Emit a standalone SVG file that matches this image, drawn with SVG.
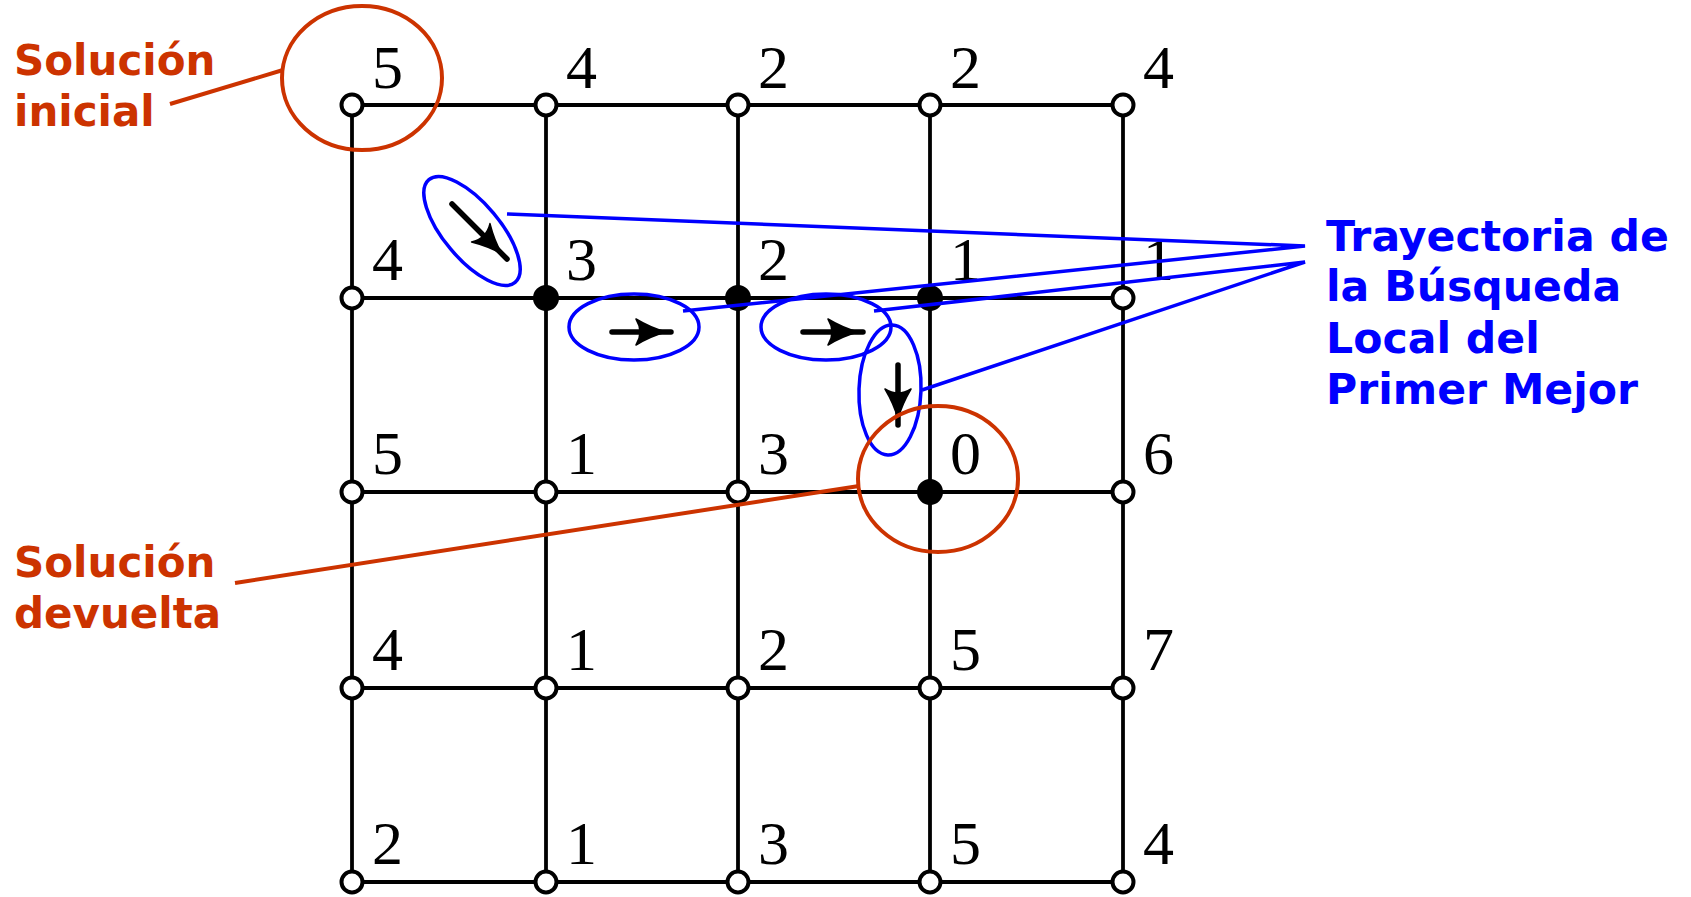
<svg xmlns="http://www.w3.org/2000/svg" xmlns:xlink="http://www.w3.org/1999/xlink" width="1691" height="897" viewBox="0 0 1691 897">
<style>
.grid line{stroke:#000;stroke-width:3.8;stroke-linecap:butt}
.open{fill:#fff;stroke:#000;stroke-width:4}
.filled{fill:#000;stroke:#000;stroke-width:2}
.num{font-family:"Liberation Serif","DejaVu Serif",serif;font-size:62px;fill:#000}
.red{fill:none;stroke:#CC3300;stroke-width:4}
.blue{fill:none;stroke:#0000FF;stroke-width:3.5}
.redtxt{font-family:"DejaVu Sans",Verdana,sans-serif;font-weight:bold;font-size:42px;fill:#CC3300}
.bluetxt{font-family:"DejaVu Sans",Verdana,sans-serif;font-weight:bold;font-size:42.6px;fill:#0000FF}
.shaft{stroke:#000;stroke-width:5.5;stroke-linecap:round}
</style>
<defs>
<path id="head" d="M0,0 Q-15,-4 -30,-13 Q-22,0 -30,13 Q-15,4 0,0 Z" fill="#000" stroke="#000" stroke-width="1.5" stroke-linejoin="round"/>
</defs>
<rect width="1691" height="897" fill="#fff"/>
<g id="connectors" class="grid">
<line x1="352" y1="105" x2="1123" y2="105"/>
<line x1="352" y1="298" x2="1123" y2="298"/>
<line x1="352" y1="492" x2="1123" y2="492"/>
<line x1="352" y1="688" x2="1123" y2="688"/>
<line x1="352" y1="882" x2="1123" y2="882"/>
<line x1="352" y1="105" x2="352" y2="882"/>
<line x1="546" y1="105" x2="546" y2="882"/>
<line x1="738" y1="105" x2="738" y2="882"/>
<line x1="930" y1="105" x2="930" y2="882"/>
<line x1="1123" y1="105" x2="1123" y2="882"/>
</g>
<g id="n00"><circle class="open" cx="352" cy="105" r="10.5"/><text class="num" x="372" y="88">5</text></g>
<g id="n01"><circle class="open" cx="546" cy="105" r="10.5"/><text class="num" x="566" y="88">4</text></g>
<g id="n02"><circle class="open" cx="738" cy="105" r="10.5"/><text class="num" x="758" y="88">2</text></g>
<g id="n03"><circle class="open" cx="930" cy="105" r="10.5"/><text class="num" x="950" y="88">2</text></g>
<g id="n04"><circle class="open" cx="1123" cy="105" r="10.5"/><text class="num" x="1143" y="88">4</text></g>
<g id="n10"><circle class="open" cx="352" cy="298" r="10.5"/><text class="num" x="372" y="280">4</text></g>
<g id="n11"><circle class="filled" cx="546" cy="298" r="12"/><text class="num" x="566" y="280">3</text></g>
<g id="n12"><circle class="filled" cx="738" cy="298" r="12"/><text class="num" x="758" y="280">2</text></g>
<g id="n13"><circle class="filled" cx="930" cy="298" r="12"/><text class="num" x="950" y="280">1</text></g>
<g id="n14"><circle class="open" cx="1123" cy="298" r="10.5"/><text class="num" x="1143" y="280">1</text></g>
<g id="n20"><circle class="open" cx="352" cy="492" r="10.5"/><text class="num" x="372" y="474">5</text></g>
<g id="n21"><circle class="open" cx="546" cy="492" r="10.5"/><text class="num" x="566" y="474">1</text></g>
<g id="n22"><circle class="open" cx="738" cy="492" r="10.5"/><text class="num" x="758" y="474">3</text></g>
<g id="n23"><circle class="filled" cx="930" cy="492" r="12"/><text class="num" x="950" y="474">0</text></g>
<g id="n24"><circle class="open" cx="1123" cy="492" r="10.5"/><text class="num" x="1143" y="474">6</text></g>
<g id="n30"><circle class="open" cx="352" cy="688" r="10.5"/><text class="num" x="372" y="670">4</text></g>
<g id="n31"><circle class="open" cx="546" cy="688" r="10.5"/><text class="num" x="566" y="670">1</text></g>
<g id="n32"><circle class="open" cx="738" cy="688" r="10.5"/><text class="num" x="758" y="670">2</text></g>
<g id="n33"><circle class="open" cx="930" cy="688" r="10.5"/><text class="num" x="950" y="670">5</text></g>
<g id="n34"><circle class="open" cx="1123" cy="688" r="10.5"/><text class="num" x="1143" y="670">7</text></g>
<g id="n40"><circle class="open" cx="352" cy="882" r="10.5"/><text class="num" x="372" y="864">2</text></g>
<g id="n41"><circle class="open" cx="546" cy="882" r="10.5"/><text class="num" x="566" y="864">1</text></g>
<g id="n42"><circle class="open" cx="738" cy="882" r="10.5"/><text class="num" x="758" y="864">3</text></g>
<g id="n43"><circle class="open" cx="930" cy="882" r="10.5"/><text class="num" x="950" y="864">5</text></g>
<g id="n44"><circle class="open" cx="1123" cy="882" r="10.5"/><text class="num" x="1143" y="864">4</text></g>
<g id="moves">
<line class="shaft" x1="452" y1="204" x2="507" y2="259"/>
<use xlink:href="#head" href="#head" transform="translate(502,254) rotate(45)"/>
<line class="shaft" x1="612" y1="332" x2="671" y2="332"/>
<use xlink:href="#head" href="#head" transform="translate(666,332)"/>
<line class="shaft" x1="803" y1="332" x2="863" y2="332"/>
<use xlink:href="#head" href="#head" transform="translate(858,332)"/>
<line class="shaft" x1="898" y1="365" x2="898" y2="425"/>
<use xlink:href="#head" href="#head" transform="translate(898,419) rotate(90)"/>
</g>
<g id="trajectory">
<ellipse class="blue" cx="472" cy="231" rx="67" ry="28" transform="rotate(50 472 231)"/>
<ellipse class="blue" cx="634" cy="327" rx="65" ry="33"/>
<ellipse class="blue" cx="826" cy="327" rx="65" ry="33"/>
<ellipse class="blue" cx="890" cy="390" rx="31" ry="65" transform="rotate(2 890 390)"/>
<polyline class="blue" points="507,214 1305,246 683,311"/>
<polyline class="blue" points="874,311 1305,262 922,390"/>
<text class="bluetxt" x="1326" y="251">Trayectoria de</text>
<text class="bluetxt" x="1326" y="301">la Búsqueda</text>
<text class="bluetxt" x="1326" y="353">Local del</text>
<text class="bluetxt" x="1326" y="404">Primer Mejor</text>
</g>
<g id="initial">
<ellipse class="red" cx="362" cy="78" rx="80" ry="72"/>
<line class="red" x1="170" y1="104" x2="283" y2="70"/>
<text class="redtxt" x="14" y="75">Solución</text>
<text class="redtxt" x="14" y="126">inicial</text>
</g>
<g id="returned">
<ellipse class="red" cx="938" cy="479" rx="80" ry="73"/>
<line class="red" x1="235" y1="583" x2="859" y2="486"/>
<text class="redtxt" x="14" y="577">Solución</text>
<text class="redtxt" x="14" y="628">devuelta</text>
</g>
</svg>
